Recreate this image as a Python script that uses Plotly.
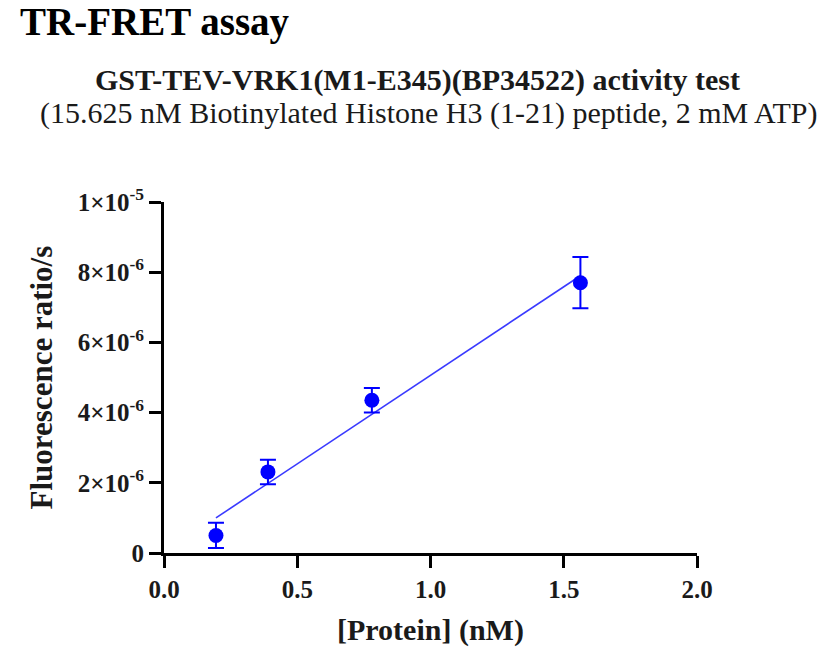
import plotly.graph_objects as go

# protein concentration (nM) and measured TR-FRET ratio
protein_nm = [0.195, 0.39, 0.78, 1.5625]
ratio = [0.50e-6, 2.31e-6, 4.35e-6, 7.70e-6]
ratio_err = [0.36e-6, 0.35e-6, 0.35e-6, 0.73e-6]

# linear fit endpoints as drawn
fit_x = [0.195, 1.5625]
fit_y = [1.0e-6, 7.9e-6]

y_ticks = [0, 2e-6, 4e-6, 6e-6, 8e-6, 1e-5]
y_ticktext = ['0', '2×10<sup>-6</sup>', '4×10<sup>-6</sup>', '6×10<sup>-6</sup>',
              '8×10<sup>-6</sup>', '1×10<sup>-5</sup>']
x_ticks = [0, 0.5, 1.0, 1.5, 2.0]
x_ticktext = ['0.0', '0.5', '1.0', '1.5', '2.0']

SERIF = 'Liberation Serif'
TXT = '#1a1a1a'

fig = go.Figure()

fig.add_trace(go.Scatter(
    x=fit_x, y=fit_y, mode='lines',
    line=dict(color='#3a3aff', width=1.6),
    showlegend=False, hoverinfo='skip'
))

fig.add_trace(go.Scatter(
    x=protein_nm, y=ratio, mode='markers',
    marker=dict(color='#0000ff', size=15),
    error_y=dict(type='data', array=ratio_err, color='#0000ff', thickness=2, width=8),
    showlegend=False, cliponaxis=False
))

axis_common = dict(
    showline=True, linecolor='black', linewidth=3,
    ticks='outside', ticklen=12, tickwidth=3, tickcolor='black',
    showgrid=False, zeroline=False,
)

fig.update_xaxes(range=[0, 2], tickvals=x_ticks, ticktext=x_ticktext,
                 tickfont=dict(family=SERIF, size=25, color=TXT, weight='bold'), **axis_common)
fig.update_yaxes(range=[0, 1e-5], tickvals=y_ticks, ticktext=y_ticktext,
                 tickfont=dict(family=SERIF, size=25, color=TXT, weight='bold'), **axis_common)

# the page body adds an 8px offset, so the figure is 8px smaller on each side
fig.update_layout(
    width=829, height=644,
    margin=dict(l=156, r=140, t=194, b=99),
    plot_bgcolor='white', paper_bgcolor='white',
    font=dict(family=SERIF, color=TXT),
    annotations=[
        dict(text='<b>TR-FRET assay</b>', xref='paper', yref='paper',
             x=-0.274, y=1.513, xanchor='left', yanchor='middle', showarrow=False,
             font=dict(family=SERIF, size=39, color='black')),
        dict(text='<b>GST-TEV-VRK1(M1-E345)(BP34522) activity test</b>', xref='paper', yref='paper',
             x=0.4765, y=1.348, xanchor='center', yanchor='middle', showarrow=False,
             font=dict(family=SERIF, size=30, color=TXT)),
        dict(text='(15.625 nM Biotinylated Histone H3 (1-21) peptide, 2 mM ATP)', xref='paper', yref='paper',
             x=0.497, y=1.254, xanchor='center', yanchor='middle', showarrow=False,
             font=dict(family=SERIF, size=30, color=TXT)),
        dict(text='<b>[Protein] (nM)</b>', xref='paper', yref='paper',
             x=0.5, y=-0.219, xanchor='center', yanchor='middle', showarrow=False,
             font=dict(family=SERIF, size=30, color=TXT)),
        dict(text='<b>Fluorescence ratio/s</b>', xref='paper', yref='paper',
             x=-0.229, y=0.5, xanchor='center', yanchor='middle', showarrow=False, textangle=-90,
             font=dict(family=SERIF, size=31, color=TXT)),
    ],
)

fig.write_html("out.html")
